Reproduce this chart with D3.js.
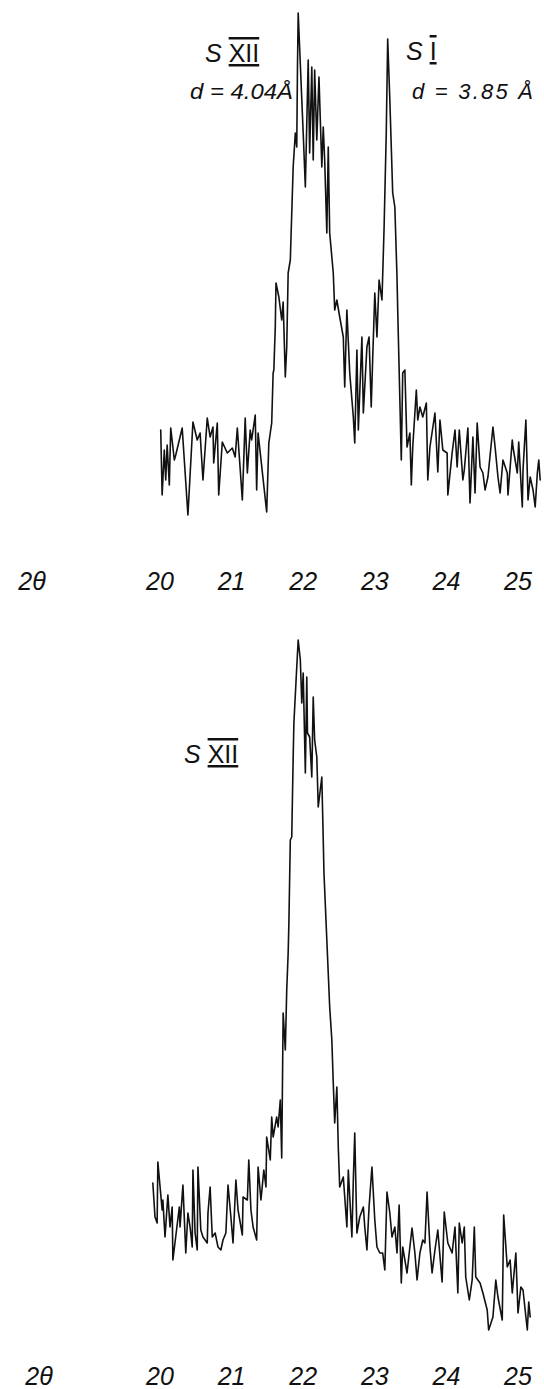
<!DOCTYPE html>
<html>
<head>
<meta charset="utf-8">
<script src="https://cdn.jsdelivr.net/npm/d3@7"></script>
<style>
  html, body { margin: 0; padding: 0; background: #fff; }
  svg { display: block; }
  text { font-family: "Liberation Sans", "DejaVu Sans", sans-serif; font-style: italic; fill: #111; }
</style>
</head>
<body>
<svg id="chart" width="544" height="1389"></svg>
<script>
// ---- Data (2θ in degrees, intensity in arbitrary counts) ----
const tickLabels = [20, 21, 22, 23, 24, 25];
const axisTitle = "2θ";

// Upper pattern: mixture S XII + S I
const topTheta = [20.01,20.03,20.06,20.08,20.10,20.13,20.15,20.20,20.22,20.31,20.39,20.46,20.52,20.56,20.60,20.66,20.70,20.74,20.75,20.80,20.82,20.87,20.94,21.01,21.05,21.08,21.15,21.19,21.22,21.26,21.28,21.33,21.35,21.37,21.49,21.52,21.56,21.58,21.59,21.61,21.62,21.66,21.70,21.72,21.75,21.77,21.79,21.82,21.86,21.89,21.91,21.92,21.93,22.00,22.03,22.07,22.09,22.12,22.14,22.16,22.19,22.22,22.26,22.28,22.30,22.33,22.35,22.37,22.42,22.44,22.47,22.51,22.56,22.58,22.61,22.65,22.70,22.72,22.75,22.77,22.82,22.84,22.89,22.92,22.95,22.97,23.00,23.03,23.06,23.10,23.13,23.16,23.18,23.21,23.25,23.28,23.31,23.32,23.35,23.37,23.39,23.42,23.45,23.49,23.51,23.53,23.58,23.60,23.63,23.67,23.72,23.74,23.77,23.84,23.88,23.91,23.95,24.01,24.02,24.08,24.12,24.15,24.18,24.23,24.25,24.30,24.33,24.37,24.40,24.43,24.47,24.51,24.54,24.58,24.65,24.68,24.72,24.75,24.79,24.85,24.86,24.92,24.93,24.99,25.01,25.06,25.07,25.11,25.14,25.17,25.21,25.24,25.27,25.29,25.31];
const topIntensity = [90,25,70,40,75,35,92,60,65,92,5,98,80,87,40,102,83,93,57,97,25,78,67,72,63,92,20,102,47,90,80,105,30,87,8,77,97,147,150,193,237,223,200,218,143,173,247,260,353,387,373,453,507,387,333,460,367,453,360,450,380,443,353,393,360,287,373,287,247,210,220,203,183,133,210,147,103,77,170,90,183,107,173,183,113,160,227,183,240,220,293,387,481,420,327,313,243,210,120,60,147,150,73,87,35,73,130,100,113,103,117,40,73,107,48,100,70,67,25,67,90,53,90,40,50,92,17,83,27,97,53,47,30,43,93,73,43,27,60,47,25,80,73,47,78,13,50,100,20,43,30,13,47,60,40];

// Lower pattern: S XII
const botTheta = [19.90,19.93,19.96,19.97,20.03,20.04,20.07,20.11,20.14,20.17,20.18,20.27,20.28,20.32,20.36,20.39,20.42,20.45,20.46,20.49,20.52,20.53,20.57,20.60,20.66,20.67,20.70,20.73,20.77,20.81,20.85,20.88,20.92,20.95,20.99,21.02,21.06,21.09,21.15,21.16,21.22,21.24,21.27,21.30,21.35,21.37,21.41,21.45,21.48,21.49,21.54,21.56,21.58,21.63,21.65,21.68,21.70,21.72,21.75,21.77,21.79,21.80,21.82,21.84,21.86,21.87,21.91,21.93,21.96,21.98,22.00,22.03,22.05,22.06,22.09,22.12,22.14,22.16,22.19,22.21,22.26,22.28,22.29,22.33,22.37,22.40,22.42,22.44,22.47,22.49,22.51,22.56,22.61,22.63,22.68,22.70,22.72,22.75,22.79,22.84,22.86,22.89,22.92,22.96,23.00,23.03,23.07,23.11,23.14,23.17,23.21,23.24,23.28,23.31,23.34,23.37,23.39,23.45,23.49,23.52,23.56,23.59,23.63,23.67,23.70,23.73,23.77,23.80,23.84,23.88,23.94,23.97,24.02,24.08,24.12,24.16,24.18,24.22,24.25,24.27,24.32,24.36,24.39,24.41,24.47,24.51,24.57,24.59,24.65,24.69,24.72,24.78,24.80,24.85,24.89,24.92,24.97,25.00,25.04,25.07,25.13,25.15,25.17];
const botIntensity = [157,123,117,178,130,140,103,145,113,133,80,133,113,155,87,127,113,93,170,107,90,173,110,103,97,127,153,103,107,93,90,100,107,155,123,97,160,130,105,143,140,180,130,113,100,173,140,170,153,203,180,223,203,223,213,240,182,327,290,350,387,417,500,503,583,617,673,700,680,637,667,567,663,607,603,563,643,600,583,533,563,500,467,400,333,300,257,217,253,193,153,163,113,170,103,160,207,107,123,133,113,90,133,173,120,93,87,87,70,148,127,103,113,87,135,57,93,67,93,112,87,60,87,100,97,148,93,67,90,110,58,128,97,87,113,47,117,97,113,63,40,60,113,63,57,47,30,10,23,60,43,20,125,73,80,47,87,27,53,50,10,38,23];

// ---- Scales ----
const svg = d3.select("#chart");
svg.append("rect").attr("width", 544).attr("height", 1389).attr("fill", "#fff");

const x = d3.scaleLinear().domain([20, 25]).range([160, 518]);
const yTop = d3.scaleLinear().domain([0, 510]).range([520, 10]);
const yBot = d3.scaleLinear().domain([0, 700]).range([1340, 640]);

function drawTrace(thetas, ints, yScale) {
  const pts = thetas.map((t, i) => [t, ints[i]]);
  const line = d3.line().x(d => x(d[0])).y(d => yScale(d[1]));
  svg.append("path")
    .datum(pts)
    .attr("d", line)
    .attr("fill", "none")
    .attr("stroke", "#111")
    .attr("stroke-width", 1.6)
    .attr("stroke-linejoin", "round")
    .attr("stroke-linecap", "round");
}

drawTrace(topTheta, topIntensity, yTop);
drawTrace(botTheta, botIntensity, yBot);

// ---- Tick labels (no axis lines, as in the original) ----
function drawAxisLabels(baseline, titleX) {
  const g = svg.append("g");
  g.selectAll("text.tick")
    .data(tickLabels)
    .join("text")
    .attr("class", "tick")
    .attr("x", d => x(d))
    .attr("y", baseline)
    .attr("text-anchor", "middle")
    .attr("font-size", 25)
    .text(d => d);
  g.append("text")
    .attr("x", titleX)
    .attr("y", baseline)
    .attr("text-anchor", "middle")
    .attr("font-size", 25)
    .text(axisTitle);
}
drawAxisLabels(590, 32);
drawAxisLabels(1385, 39);

// ---- Peak annotations ----
function roman(xS, y, label, size) {
  const t = svg.append("text").attr("x", xS).attr("y", y).attr("font-size", size);
  t.append("tspan").text("S ");
  t.append("tspan")
    .style("text-decoration", "underline overline")
    .attr("font-style", "normal")
    .text(label);
  return t;
}
roman(205, 62, "XII", 25);
svg.append("text").attr("x", 190).attr("y", 99).attr("font-size", 22)
  .attr("textLength", 103).attr("lengthAdjust", "spacingAndGlyphs").text("d = 4.04Å");

roman(406, 60, "I", 25);
svg.append("text").attr("x", 412).attr("y", 99).attr("font-size", 22)
  .attr("textLength", 121).attr("lengthAdjust", "spacing").text("d = 3.85 Å");

roman(184, 763, "XII", 25);
</script>
</body>
</html>
